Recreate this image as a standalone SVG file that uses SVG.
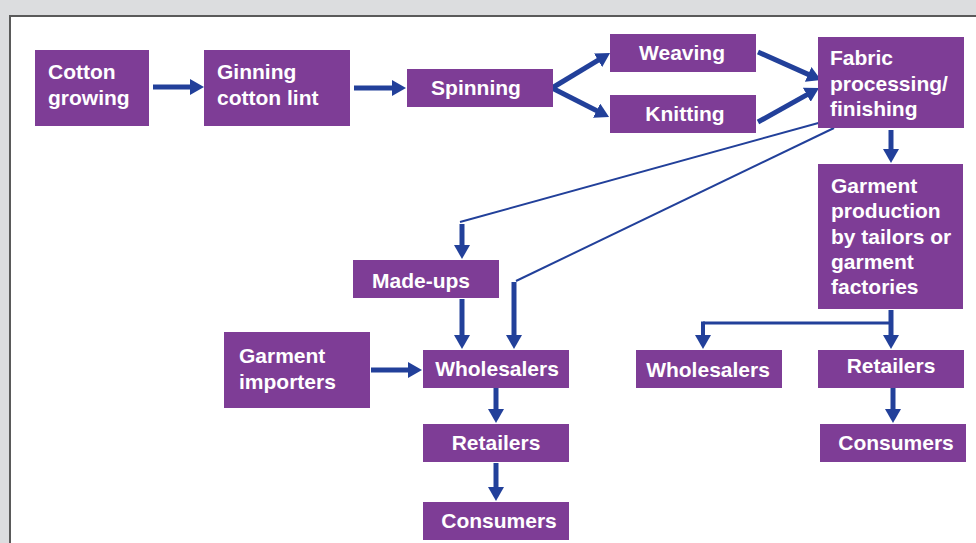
<svg xmlns="http://www.w3.org/2000/svg" width="976" height="543" viewBox="0 0 976 543">
<style>
.box{fill:#7e3d96}
.t{font-family:"Liberation Sans",Arial,sans-serif;font-weight:bold;font-size:21px;fill:#ffffff}
.c{text-anchor:middle}
.arr{stroke:#22409a;stroke-width:5;fill:none;marker-end:url(#ah)}
.thin{stroke:#22409a;stroke-width:2;fill:none}
.mid{stroke:#22409a;stroke-width:3;fill:none}
</style>
<defs>
<marker id="ah" viewBox="0 0 14 16" refX="8" refY="8" markerWidth="14" markerHeight="16" markerUnits="userSpaceOnUse" orient="auto">
<path d="M0,0 L14,8 L0,16 z" fill="#22409a"/>
</marker>
</defs>
<rect x="0" y="0" width="976" height="543" fill="#dcdddf"/>
<rect x="10" y="16" width="980" height="540" fill="#ffffff" stroke="#5a5a5a" stroke-width="2"/>
<g id="connectors">
<line class="arr" x1="153" y1="87" x2="198" y2="87"/>
<line class="arr" x1="354" y1="88" x2="400" y2="88"/>
<line class="arr" x1="552" y1="88" x2="604.9" y2="56.1"/>
<line class="arr" x1="552" y1="88" x2="603.7" y2="114.3"/>
<line class="arr" x1="758" y1="52" x2="815.5" y2="77.6"/>
<line class="arr" x1="758" y1="122" x2="813.8" y2="90.9"/>
<line class="arr" x1="891" y1="130" x2="891" y2="157"/>
<line class="thin" x1="822" y1="122" x2="460" y2="222"/>
<line class="arr" x1="462" y1="224" x2="462" y2="253"/>
<line class="thin" x1="834" y1="128" x2="516" y2="281"/>
<line class="arr" x1="514" y1="282" x2="514" y2="343"/>
<line class="arr" x1="462" y1="299" x2="462" y2="343"/>
<line class="arr" x1="371" y1="370" x2="416" y2="370"/>
<line class="arr" x1="496" y1="388" x2="496" y2="417"/>
<line class="arr" x1="496" y1="463" x2="496" y2="495"/>
<line class="arr" x1="891" y1="310" x2="891" y2="343"/>
<line class="mid" x1="703" y1="323" x2="891" y2="323"/>
<line class="arr" x1="703" y1="321.5" x2="703" y2="343" style="stroke-width:4"/>
<line class="arr" x1="893" y1="388" x2="893" y2="417"/>
</g>
<g id="cotton-growing"><rect class="box" x="35" y="50" width="114" height="76"/><text class="t" x="48" y="79">Cotton</text><text class="t" x="48" y="105">growing</text></g>
<g id="ginning"><rect class="box" x="204" y="50" width="146" height="76"/><text class="t" x="217" y="79">Ginning</text><text class="t" x="217" y="105">cotton lint</text></g>
<g id="spinning"><rect class="box" x="407" y="69" width="146" height="38"/><text class="t c" x="476" y="95">Spinning</text></g>
<g id="weaving"><rect class="box" x="610" y="34" width="146" height="38"/><text class="t c" x="682" y="60">Weaving</text></g>
<g id="knitting"><rect class="box" x="610" y="95" width="146" height="38"/><text class="t c" x="685" y="121">Knitting</text></g>
<g id="fabric"><rect class="box" x="818" y="37" width="146" height="91"/><text class="t" x="830" y="65">Fabric</text><text class="t" x="830" y="91">processing/</text><text class="t" x="830" y="116">finishing</text></g>
<g id="garment-production"><rect class="box" x="818" y="164" width="145" height="145"/><text class="t" x="831" y="193">Garment</text><text class="t" x="831" y="218">production</text><text class="t" x="831" y="244">by tailors or</text><text class="t" x="831" y="269">garment</text><text class="t" x="831" y="294">factories</text></g>
<g id="made-ups"><rect class="box" x="353" y="260" width="146" height="38"/><text class="t c" x="421" y="288">Made-ups</text></g>
<g id="garment-importers"><rect class="box" x="224" y="332" width="146" height="76"/><text class="t" x="239" y="363">Garment</text><text class="t" x="239" y="389">importers</text></g>
<g id="wholesalers-left"><rect class="box" x="423" y="350" width="146" height="38"/><text class="t c" x="497" y="376">Wholesalers</text></g>
<g id="retailers-left"><rect class="box" x="423" y="424" width="146" height="38"/><text class="t c" x="496" y="450">Retailers</text></g>
<g id="consumers-left"><rect class="box" x="423" y="502" width="146" height="38"/><text class="t c" x="499" y="528">Consumers</text></g>
<g id="wholesalers-right"><rect class="box" x="636" y="350" width="146" height="38"/><text class="t c" x="708" y="377">Wholesalers</text></g>
<g id="retailers-right"><rect class="box" x="818" y="350" width="146" height="38"/><text class="t c" x="891" y="373">Retailers</text></g>
<g id="consumers-right"><rect class="box" x="820" y="424" width="146" height="38"/><text class="t c" x="896" y="450">Consumers</text></g>
</svg>
